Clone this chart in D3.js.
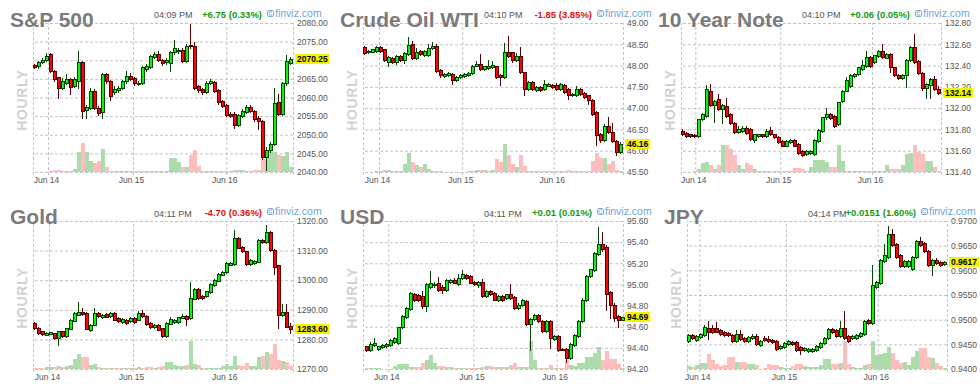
<!DOCTYPE html>
<html><head><meta charset="utf-8">
<script src="https://cdn.jsdelivr.net/npm/d3@7"></script>
<style>
html,body{margin:0;padding:0;background:#fff;}
svg{display:block;font-family:"Liberation Sans",Arial,sans-serif;}
</style></head><body>
<svg id="chart" width="980" height="390"></svg>
<script>
// ---------- DATA ----------
const titles = ["S&P 500","Crude Oil WTI","10 Year Note","Gold","USD","JPY"];
const times = ["04:09 PM","04:10 PM","04:10 PM","04:11 PM","04:11 PM","04:14 PM"];
const changes = ["+6.75 (0.33%)","-1.85 (3.85%)","+0.06 (0.05%)","-4.70 (0.36%)","+0.01 (0.01%)","+0.0151 (1.60%)"];
const lastLabels = ["2070.25","46.16","132.14","1283.60","94.69","0.9617"];
const dateLabels = ["Jun 14","Jun 15","Jun 16"];

// candles: [open, high, low, close]
const spxCandles = [
[2068.8,2069.0,2067.8,2068.1],[2068.5,2069.7,2067.9,2069.4],[2069.4,2070.5,2069.2,2070.1],[2070.1,2071.9,2069.9,2071.2],[2071.7,2071.9,2066.9,2067.2],
[2067.2,2067.4,2064.5,2064.9],[2065.4,2065.6,2060.0,2062.5],[2062.5,2065.2,2062.2,2064.5],[2064.0,2066.3,2063.6,2064.9],[2064.9,2065.2,2060.9,2062.9],
[2063.1,2065.4,2062.7,2064.9],[2064.5,2072.6,2062.5,2069.4],[2069.4,2069.7,2054.4,2056.4],[2056.6,2058.0,2054.4,2057.5],[2057.1,2062.5,2056.8,2061.8],
[2061.8,2062.2,2057.0,2057.3],[2057.3,2057.6,2055.4,2055.8],[2056.0,2066.6,2054.4,2066.3],[2066.3,2066.6,2064.0,2064.5],[2064.5,2064.8,2059.3,2060.5],
[2061.6,2063.1,2060.9,2062.2],[2062.0,2063.0,2061.5,2062.5],[2062.5,2064.8,2062.2,2064.3],[2064.3,2067.2,2064.0,2065.7],[2065.8,2066.5,2064.6,2064.9],
[2065.2,2065.5,2063.3,2063.8],[2063.6,2064.4,2063.3,2064.0],[2063.8,2068.4,2063.5,2068.1],[2067.6,2069.0,2067.2,2068.5],[2068.3,2071.5,2067.9,2071.2],
[2070.9,2072.2,2070.6,2071.7],[2071.7,2072.5,2069.8,2070.1],[2070.1,2070.4,2068.7,2069.2],[2069.4,2070.5,2069.0,2070.1],[2069.2,2072.4,2067.2,2072.1],
[2072.1,2075.4,2071.8,2073.2],[2072.4,2073.3,2072.0,2072.8],[2072.8,2073.3,2069.6,2069.9],[2069.9,2074.4,2069.6,2073.9],[2074.1,2079.6,2073.3,2073.7],
[2073.9,2074.8,2062.2,2062.5],[2063.1,2063.4,2061.5,2062.0],[2062.3,2062.6,2060.9,2061.5],[2061.6,2064.4,2061.3,2064.0],[2063.8,2065.0,2063.5,2064.3],
[2064.2,2064.5,2061.4,2061.8],[2062.0,2062.3,2058.3,2058.7],[2059.1,2059.4,2057.4,2057.8],[2058.0,2058.3,2055.0,2055.3],[2055.7,2056.0,2054.7,2055.1],
[2055.7,2056.0,2051.9,2052.7],[2052.7,2055.6,2052.3,2055.3],[2055.1,2056.8,2054.8,2056.4],[2056.2,2058.0,2055.9,2057.5],[2057.5,2058.0,2056.1,2056.4],
[2056.4,2056.7,2053.8,2054.2],[2054.6,2055.0,2051.5,2053.7],[2053.7,2054.0,2043.6,2043.9],[2043.9,2046.6,2040.5,2045.8],[2045.8,2048.0,2045.4,2047.6],
[2047.6,2062.5,2047.3,2058.4],[2058.7,2061.0,2055.4,2055.7],[2055.7,2064.2,2055.4,2063.8],[2063.8,2071.5,2063.4,2069.7],[2069.2,2071.0,2068.9,2070.25]
];
const spxVolume = [0,0,0,1,2, 7,5,3,2,3, 10,60,87,60,33, 28,33,68,15,3, 2,2,3,3,2, 2,3,4,2,3, 2,2,2,3,42, 43,30,15,15,52, 65,18,3,3,3, 2,2,2,2,3, 5,7,5,3,3, 5,5,40,45,62, 60,50,48,60,15];
const spxTicks = [2040,2045,2050,2055,2060,2065,2070,2075,2080];
const spxDateSlots = [3.75,25,48.33];

const oilCandles = [
[48.43,48.45,48.28,48.30],[48.33,48.37,48.30,48.35],[48.33,48.40,48.31,48.38],[48.35,48.47,48.33,48.43],[48.43,48.45,48.33,48.35],
[48.38,48.40,48.10,48.12],[48.09,48.22,47.99,48.20],[48.17,48.19,48.06,48.08],[48.08,48.26,48.04,48.23],[48.22,48.24,48.10,48.12],
[48.12,48.32,48.06,48.30],[48.27,48.66,48.25,48.48],[48.51,48.57,48.15,48.17],[48.17,48.41,48.15,48.33],[48.34,48.36,48.25,48.27],
[48.25,48.37,48.23,48.35],[48.24,48.51,48.22,48.41],[48.41,48.56,48.39,48.45],[48.45,48.50,47.86,47.88],[47.90,47.92,47.74,47.77],
[47.75,47.82,47.72,47.80],[47.78,47.85,47.76,47.83],[47.81,47.83,47.57,47.65],[47.65,47.75,47.63,47.73],[47.73,47.80,47.71,47.78],
[47.76,47.83,47.74,47.81],[47.78,47.85,47.76,47.83],[47.83,48.02,47.81,48.00],[48.00,48.10,47.98,48.04],[48.04,48.28,47.90,47.92],
[47.92,48.00,47.90,47.98],[47.95,48.13,47.93,48.00],[47.97,48.11,47.95,48.02],[47.98,48.00,47.70,47.73],[47.78,47.80,47.55,47.73],
[47.73,48.52,47.71,48.33],[48.33,48.70,48.20,48.22],[48.31,48.33,48.08,48.12],[48.12,48.30,48.10,48.22],[48.22,48.44,47.82,47.84],
[47.84,47.86,47.30,47.45],[47.45,47.63,47.43,47.61],[47.61,47.63,47.43,47.45],[47.43,47.51,47.41,47.49],[47.49,47.51,47.41,47.43],
[47.45,47.65,47.43,47.57],[47.53,47.59,47.51,47.57],[47.55,47.57,47.47,47.49],[47.55,47.59,47.43,47.45],[47.45,47.59,47.43,47.57],
[47.55,47.57,47.36,47.38],[47.45,47.47,47.22,47.30],[47.30,47.36,47.28,47.34],[47.30,47.52,47.28,47.45],[47.45,47.47,47.32,47.34],
[47.36,47.38,47.24,47.26],[47.30,47.32,47.10,47.18],[47.20,47.22,46.85,46.87],[46.91,46.93,46.13,46.38],[46.40,46.42,46.20,46.24],
[46.24,46.62,46.22,46.58],[46.58,46.80,46.42,46.44],[46.44,46.66,46.20,46.22],[46.22,46.24,45.89,45.97],[45.97,46.20,45.95,46.16]
];
const oilVolume = [0,0,0,2,3, 7,6,3,3,3, 25,58,30,20,15, 23,10,4,2,2, 1,1,1,1,1, 1,2,4,6,5, 5,4,5,40,30, 85,52,25,15,52, 18,3,3,2,2, 2,2,2,2,2, 2,6,2,2,2, 2,4,32,58,42, 42,25,32,5,3];
const oilTicks = [45.5,46.0,46.5,47.0,47.5,48.0,48.5,49.0];
const oilDateSlots = [4.0,24.83,47.67];

const noteCandles = [
[131.787,131.80,131.75,131.755],[131.77,131.78,131.73,131.74],[131.755,131.76,131.73,131.735],[131.75,131.76,131.73,131.735],[131.735,131.90,131.73,131.897],
[131.897,131.95,131.89,131.944],[131.93,132.22,131.92,132.18],[132.165,132.23,132.02,132.03],[132.03,132.08,131.87,132.07],[132.086,132.13,131.98,131.99],
[131.99,132.04,131.86,132.03],[132.02,132.10,131.92,131.93],[131.944,131.95,131.85,131.86],[131.865,131.87,131.77,131.78],[131.78,131.83,131.77,131.80],
[131.787,131.83,131.78,131.818],[131.818,131.83,131.76,131.77],[131.80,131.81,131.70,131.71],[131.705,131.76,131.68,131.755],[131.74,131.76,131.73,131.755],
[131.755,131.76,131.73,131.74],[131.74,131.80,131.73,131.787],[131.79,131.82,131.75,131.755],[131.755,131.76,131.72,131.73],[131.73,131.74,131.67,131.68],
[131.69,131.70,131.64,131.645],[131.645,131.70,131.64,131.69],[131.68,131.71,131.67,131.70],[131.70,131.71,131.64,131.645],[131.66,131.67,131.57,131.58],
[131.60,131.61,131.55,131.56],[131.565,131.61,131.56,131.598],[131.58,131.61,131.57,131.60],[131.57,131.71,131.56,131.70],[131.69,131.80,131.68,131.79],
[131.787,131.92,131.78,131.913],[131.913,132.00,131.90,131.944],[131.944,131.95,131.90,131.91],[131.93,131.94,131.82,131.83],[131.85,132.06,131.84,132.054],
[132.07,132.17,132.06,132.165],[132.165,132.29,132.16,132.26],[132.21,132.32,132.20,132.31],[132.30,132.33,132.29,132.32],[132.32,132.39,132.31,132.385],
[132.37,132.45,132.36,132.41],[132.40,132.54,132.39,132.48],[132.48,132.49,132.39,132.40],[132.43,132.50,132.42,132.495],[132.49,132.55,132.48,132.54],
[132.54,132.60,132.47,132.48],[132.475,132.52,132.47,132.51],[132.51,132.52,132.34,132.385],[132.385,132.39,132.30,132.31],[132.31,132.32,132.27,132.28],
[132.28,132.32,132.27,132.31],[132.31,132.46,132.20,132.45],[132.45,132.58,132.44,132.573],[132.573,132.70,132.42,132.43],[132.44,132.45,132.32,132.33],
[132.33,132.34,132.17,132.19],[132.19,132.24,132.10,132.23],[132.22,132.28,132.10,132.27],[132.27,132.30,132.17,132.18],[132.18,132.21,132.13,132.14]
];
const noteVolume = [0,0,1,2,10, 28,30,20,10,22, 82,80,68,52,20, 10,26,20,8,2, 3,3,2,2,2, 3,3,2,12,12, 10,3,15,35,37, 37,30,15,15,80, 32,3,3,3,3, 3,3,3,2,3, 3,20,10,10,10, 20,55,58,80,60, 55,32,32,15,3];
const noteTicks = [131.4,131.6,131.8,132.0,132.2,132.4,132.6,132.8];
const noteDateSlots = [3.58,24.83,47.75];

const goldCandles = [
[1285.5,1286.0,1283.5,1283.8],[1283.9,1284.2,1281.8,1282.1],[1282.8,1283.0,1281.5,1281.7],[1281.6,1282.6,1281.4,1282.3],[1281.9,1282.6,1281.7,1282.4],
[1282.1,1282.3,1280.3,1280.5],[1280.5,1282.9,1278.2,1282.7],[1282.7,1283.0,1280.8,1281.0],[1281.0,1284.0,1280.8,1283.8],[1283.6,1286.9,1283.4,1286.6],
[1286.3,1289.2,1286.1,1288.9],[1288.3,1292.5,1288.1,1289.2],[1289.2,1290.5,1288.4,1288.6],[1288.9,1289.2,1283.4,1283.6],[1283.3,1285.3,1283.0,1285.0],
[1284.9,1290.5,1284.7,1288.9],[1288.9,1289.2,1287.6,1287.8],[1287.5,1288.6,1287.3,1288.3],[1288.5,1288.8,1287.4,1287.6],[1287.8,1289.2,1287.6,1288.9],
[1288.9,1289.2,1286.4,1286.6],[1287.2,1287.5,1285.9,1286.1],[1285.9,1287.2,1285.7,1286.9],[1286.6,1286.9,1285.3,1285.5],[1286.1,1287.5,1285.9,1287.2],
[1287.2,1287.5,1285.7,1285.9],[1286.6,1289.7,1286.4,1288.9],[1288.9,1290.0,1287.6,1287.8],[1287.8,1288.1,1285.0,1285.2],[1285.5,1285.8,1283.9,1284.1],
[1284.1,1285.2,1283.9,1284.9],[1284.9,1285.2,1283.1,1283.3],[1283.8,1284.0,1280.8,1281.0],[1281.0,1285.8,1280.8,1285.5],[1285.3,1287.5,1285.1,1287.0],
[1285.8,1286.9,1285.6,1286.6],[1285.9,1287.7,1285.7,1287.4],[1287.3,1288.5,1287.1,1287.8],[1287.8,1288.3,1284.9,1287.0],[1287.2,1299.4,1287.0,1293.9],
[1293.7,1297.4,1293.5,1297.1],[1297.1,1297.4,1293.7,1293.9],[1294.6,1294.9,1293.5,1293.9],[1294.5,1296.4,1294.3,1296.2],[1296.0,1298.9,1295.8,1298.7],
[1298.4,1300.4,1298.2,1300.1],[1299.8,1302.3,1299.6,1302.0],[1301.8,1303.2,1301.6,1302.9],[1302.7,1306.0,1302.5,1305.7],[1305.2,1306.0,1305.0,1305.7],
[1305.4,1316.8,1305.2,1314.2],[1314.2,1314.5,1310.8,1311.0],[1311.3,1311.6,1309.5,1309.7],[1309.7,1310.0,1305.2,1305.4],[1305.4,1307.2,1305.2,1306.9],
[1305.7,1306.9,1305.5,1306.6],[1306.3,1313.9,1306.1,1313.6],[1313.6,1313.9,1312.7,1312.9],[1312.9,1318.6,1312.7,1316.2],[1316.2,1316.5,1310.0,1310.2],
[1310.2,1310.5,1302.0,1304.6],[1305.0,1305.3,1283.9,1288.1],[1288.1,1291.9,1287.9,1289.2],[1289.2,1292.0,1284.1,1284.3],[1284.4,1285.5,1282.1,1283.6]
];
const goldVolume = [4,3,2,5,7, 5,10,6,8,12, 30,45,37,37,12, 15,5,2,2,2, 2,4,4,4,2, 2,5,3,6,5, 4,6,8,22,22, 12,10,10,12,85, 15,12,3,3,3, 3,3,10,15,10, 38,12,8,18,10, 10,37,40,50,45, 75,27,25,20,8];
const goldTicks = [1270,1280,1290,1300,1310,1320];
const goldDateSlots = [4.0,25.0,48.33];

const usdCandles = [
[94.415,94.42,94.37,94.383],[94.38,94.46,94.37,94.44],[94.43,94.49,94.42,94.446],[94.39,94.42,94.38,94.415],[94.41,94.44,94.40,94.43],
[94.42,94.45,94.41,94.44],[94.43,94.48,94.42,94.47],[94.46,94.50,94.45,94.49],[94.45,94.60,94.44,94.595],[94.595,94.71,94.59,94.70],
[94.69,94.79,94.68,94.78],[94.77,94.93,94.76,94.92],[94.91,94.92,94.84,94.85],[94.90,94.91,94.84,94.85],[94.889,94.94,94.78,94.794],
[94.794,95.01,94.75,95.00],[94.98,95.13,94.97,95.015],[94.99,95.02,94.98,95.005],[95.015,95.07,94.94,94.952],[94.98,94.99,94.92,94.95],
[94.95,95.05,94.94,95.04],[95.02,95.05,95.01,95.04],[95.045,95.06,95.01,95.015],[95.00,95.10,94.99,95.06],[95.06,95.14,95.05,95.094],
[95.09,95.10,95.05,95.06],[95.08,95.09,95.01,95.015],[95.02,95.03,94.99,95.00],[94.99,95.03,94.98,95.02],[95.02,95.05,94.88,94.889],
[94.89,94.95,94.88,94.936],[94.936,94.95,94.90,94.91],[94.92,94.93,94.85,94.857],[94.85,94.90,94.84,94.89],[94.89,94.90,94.84,94.85],
[94.87,94.91,94.86,94.905],[94.905,95.00,94.86,94.873],[94.88,94.89,94.77,94.78],[94.78,94.82,94.77,94.81],[94.81,94.86,94.80,94.85],
[94.84,94.85,94.62,94.63],[94.63,94.68,94.38,94.67],[94.67,94.72,94.66,94.715],[94.715,94.72,94.64,94.652],[94.652,94.66,94.55,94.557],
[94.56,94.66,94.55,94.652],[94.652,94.66,94.40,94.494],[94.48,94.52,94.47,94.51],[94.51,94.52,94.37,94.383],[94.39,94.40,94.38,94.383],
[94.39,94.40,94.27,94.30],[94.30,94.45,94.29,94.44],[94.43,94.53,94.42,94.526],[94.51,94.66,94.50,94.652],[94.652,94.87,94.64,94.857],
[94.85,95.09,94.84,95.08],[95.08,95.15,95.07,95.142],[95.14,95.31,95.13,95.30],[95.29,95.54,95.28,95.385],[95.385,95.50,95.32,95.332],
[95.355,95.37,94.76,94.91],[94.93,94.94,94.68,94.81],[94.81,94.82,94.65,94.684],[94.70,94.71,94.60,94.668],[94.668,94.69,94.66,94.69]
];
const usdVolume = [3,3,3,2,1, 1,1,8,15,15, 15,7,7,5,17, 27,42,17,10,10, 7,7,4,4,4, 2,2,2,2,7, 10,10,5,5,7, 7,12,18,7,7, 7,85,27,3,3, 3,13,3,4,4, 27,12,10,17,17, 35,35,47,65,27, 55,30,30,15,3];
const usdTicks = [94.2,94.4,94.6,94.8,95.0,95.2,95.4,95.6];
const usdDateSlots = [6.33,27.6,48.4];

const jpyCandles = [
[0.9456,0.9470,0.9454,0.9468],[0.9468,0.9471,0.9460,0.9462],[0.9459,0.9468,0.9457,0.9466],[0.9465,0.9473,0.9463,0.9471],[0.9469,0.9490,0.9467,0.9486],
[0.9484,0.9497,0.9460,0.9476],[0.9484,0.9490,0.9473,0.9475],[0.9484,0.9496,0.9474,0.9476],[0.9480,0.9482,0.9469,0.9471],[0.9476,0.9478,0.9467,0.9469],
[0.9473,0.9475,0.9466,0.9468],[0.9469,0.9471,0.9454,0.9456],[0.9456,0.9479,0.9454,0.9471],[0.9471,0.9479,0.9459,0.9461],[0.9462,0.9464,0.9454,0.9456],
[0.9457,0.9466,0.9455,0.9464],[0.9462,0.9470,0.9460,0.9466],[0.9466,0.9471,0.9449,0.9451],[0.9449,0.9458,0.9447,0.9456],[0.9463,0.9466,0.9456,0.9458],
[0.9461,0.9467,0.9454,0.9456],[0.9458,0.9460,0.9453,0.9455],[0.9456,0.9458,0.9439,0.9441],[0.9442,0.9448,0.9440,0.9446],[0.9445,0.9455,0.9443,0.9453],
[0.9451,0.9458,0.9449,0.9456],[0.9455,0.9457,0.9449,0.9451],[0.9455,0.9457,0.9437,0.9439],[0.9445,0.9447,0.9431,0.9438],[0.9438,0.9445,0.9436,0.9443],
[0.9436,0.9442,0.9435,0.9440],[0.9436,0.9442,0.9435,0.9440],[0.9438,0.9448,0.9436,0.9446],[0.9444,0.9455,0.9442,0.9453],[0.9452,0.9465,0.9450,0.9463],
[0.9462,0.9483,0.9460,0.9481],[0.9481,0.9483,0.9473,0.9475],[0.9479,0.9481,0.9464,0.9466],[0.9466,0.9497,0.9464,0.9483],[0.9483,0.9518,0.9461,0.9463],
[0.9466,0.9468,0.9454,0.9456],[0.9462,0.9468,0.9460,0.9466],[0.9462,0.9470,0.9460,0.9468],[0.9466,0.9475,0.9464,0.9473],[0.9471,0.9500,0.9469,0.9498],
[0.9500,0.9502,0.9491,0.9493],[0.9493,0.9610,0.9491,0.9570],[0.9567,0.9579,0.9565,0.9577],[0.9574,0.9623,0.9572,0.9621],[0.9619,0.9653,0.9617,0.9631],
[0.9628,0.9689,0.9626,0.9673],[0.9673,0.9683,0.9650,0.9652],[0.9653,0.9655,0.9626,0.9628],[0.9631,0.9633,0.9607,0.9609],[0.9609,0.9620,0.9607,0.9618],
[0.9609,0.9620,0.9607,0.9618],[0.9603,0.9630,0.9600,0.9628],[0.9628,0.9662,0.9626,0.9660],[0.9659,0.9668,0.9650,0.9652],[0.9655,0.9657,0.9637,0.9639],
[0.9639,0.9641,0.9608,0.9610],[0.9610,0.9623,0.9591,0.9621],[0.9621,0.9625,0.9612,0.9614],[0.9617,0.9619,0.9608,0.9610],[0.9612,0.9619,0.9610,0.9617]
];
const jpyVolume = [9,5,12,19,19, 44,27,15,10,12, 35,35,22,22,22, 15,15,13,1,2, 15,12,12,7,3, 3,9,14,14,9, 7,7,7,12,29, 29,15,15,17,84, 15,5,2,2,12, 15,84,42,44,47, 65,47,27,19,22, 12,37,54,62,64, 37,34,17,9,3];
const jpyTicks = [0.940,0.945,0.950,0.955,0.960,0.965,0.970];
const jpyDateSlots = [3.08,24.75,47.67];

// ---------- LAYOUT ----------
const panels = [
  {c: spxCandles, v: spxVolume, t: spxTicks, d: spxDateSlots, fmt: ".2f", ox: 0,   row: 0, shift: 0},
  {c: oilCandles, v: oilVolume, t: oilTicks, d: oilDateSlots, fmt: ".2f", ox: 330, row: 0, shift: 0},
  {c: noteCandles, v: noteVolume, t: noteTicks, d: noteDateSlots, fmt: ".2f", ox: 648, row: 0, shift: 0},
  {c: goldCandles, v: goldVolume, t: goldTicks, d: goldDateSlots, fmt: ".2f", ox: 0,   row: 1, shift: 0},
  {c: usdCandles, v: usdVolume, t: usdTicks, d: usdDateSlots, fmt: ".2f", ox: 330, row: 1, shift: 0.5},
  {c: jpyCandles, v: jpyVolume, t: jpyTicks, d: jpyDateSlots, fmt: ".4f", ox: 654, row: 1, shift: 0}
];
const rows = [
  {top: 23, bottom: 172, title: 26.5, time: 18, change: 17.5, logo: 17, hourly: 100},
  {top: 221, bottom: 369, title: 224, time: 217, change: 215.8, logo: 215, hourly: 298}
];
const SLOTS = 65, STEP = 4;
const UP = {fill: "#14ee14", stroke: "#074407", vol: "#acdcac"};
const DN = {fill: "#f20a0a", stroke: "#520000", vol: "#ffbebe"};

const svg = d3.select("#chart");
svg.append("rect").attr("width", 980).attr("height", 390).attr("fill", "#fff");

panels.forEach((p, k) => {
  const R = rows[p.row];
  const left = 33 + p.ox, right = left + SLOTS * STEP;
  const g = svg.append("g");
  const x = d3.scaleLinear().domain([0, SLOTS]).range([left, right]);
  const y = d3.scaleLinear().domain([p.t[0], p.t[p.t.length - 1]]).range([R.bottom, R.top]);
  const vy = d3.scaleLinear().domain([0, 90]).range([0, 30]);

  // HOURLY watermark
  g.append("text")
    .attr("transform", `translate(${p.ox + 22},${R.hourly}) rotate(-90)`)
    .attr("text-anchor", "middle").attr("dy", "0.36em")
    .attr("font-size", 14).attr("font-weight", "bold").attr("fill", "#d2d2d2")
    .attr("letter-spacing", 0.6)
    .text("HOURLY");

  // volume
  g.append("g").selectAll("rect").data(p.c).join("rect")
    .attr("x", (d, i) => Math.round(x(i + p.shift)))
    .attr("width", STEP)
    .attr("y", (d, i) => R.bottom - Math.round(vy(p.v[i])))
    .attr("height", (d, i) => Math.round(vy(p.v[i])))
    .attr("fill", d => d[3] >= d[0] ? UP.vol : DN.vol);

  // horizontal grid + y labels
  const yAxis = g.append("g").attr("transform", `translate(${right},0)`)
    .call(d3.axisRight(y).tickValues(p.t).tickFormat(d3.format(p.fmt))
      .tickSize(-(right - left)).tickPadding(4));
  yAxis.select(".domain").remove();
  yAxis.selectAll("line").attr("stroke", "#c4c4c4").attr("stroke-dasharray", "3,2");
  yAxis.selectAll("text").attr("font-size", 8.5).attr("fill", "#555")
    .attr("font-family", "'Liberation Sans',Arial,sans-serif");

  // vertical grid + date labels
  const xAxis = g.append("g").attr("transform", `translate(0,${R.bottom + 3})`)
    .call(d3.axisBottom(x).tickValues([0, ...p.d, SLOTS])
      .tickFormat((d, i) => (i >= 1 && i <= p.d.length) ? dateLabels[i - 1] : "")
      .tickSize(-(R.bottom + 3 - R.top)).tickPadding(2));
  xAxis.select(".domain").remove();
  xAxis.selectAll("line").attr("stroke", "#c4c4c4").attr("stroke-dasharray", "3,2");
  xAxis.selectAll("text").attr("font-size", 8.5).attr("fill", "#555").attr("dx", -2)
    .attr("font-family", "'Liberation Sans',Arial,sans-serif");

  // candles
  const cg = g.append("g");
  p.c.forEach((d, i) => {
    const [o, h, l, c] = d;
    const col = c >= o ? UP : DN;
    const a = Math.round(x(i + p.shift));
    cg.append("line")
      .attr("x1", a + 1.5).attr("x2", a + 1.5)
      .attr("y1", Math.round(y(h))).attr("y2", Math.round(y(l)) + 1)
      .attr("stroke", col.stroke).attr("stroke-width", 1);
    const top = Math.round(y(Math.max(o, c)));
    const hgt = Math.max(2, Math.round(y(Math.min(o, c))) - top + 1);
    cg.append("rect")
      .attr("x", a + 0.5).attr("width", 3)
      .attr("y", top + 0.5).attr("height", hgt - 1)
      .attr("fill", col.fill).attr("stroke", col.stroke).attr("stroke-width", 1);
  });

  // last price tag
  const last = p.c[p.c.length - 1][3];
  const ly = y(last);
  const tag = g.append("g");
  const tr = tag.append("rect").attr("fill", "#f4f400");
  const tt = tag.append("text").attr("x", right + 4).attr("y", ly).attr("dy", "0.35em")
    .attr("font-size", 8.5).attr("font-weight", "bold").attr("fill", "#000")
    .text(lastLabels[k]);
  const tw = tt.node().getComputedTextLength();
  tr.attr("x", right + 2).attr("y", Math.round(ly) - 5).attr("width", tw + 4).attr("height", 10);

  // header
  g.append("text").attr("x", p.ox + 10).attr("y", R.title)
    .attr("font-size", 21).attr("font-weight", "bold").attr("fill", "#7b7b7b")
    .text(titles[k]);
  g.append("text").attr("x", p.ox + 154).attr("y", R.time)
    .attr("font-size", 9).attr("fill", "#555").text(times[k]);
  g.append("text").attr("x", p.ox + 262).attr("y", R.change).attr("text-anchor", "end")
    .attr("font-size", 9.5).attr("font-weight", "bold")
    .attr("fill", changes[k][0] === "-" ? "#e01010" : "#129a12")
    .text(changes[k]);
  // finviz logo
  const lg = g.append("g").attr("transform", `translate(${p.ox + 267},${R.logo - 7})`);
  lg.append("rect").attr("x", 0.5).attr("y", 0.5).attr("width", 6).attr("height", 6).attr("rx", 1.5)
    .attr("fill", "none").attr("stroke", "#7aaee0").attr("stroke-width", 1);
  lg.append("path").attr("d", "M5,2.3 A1.8,1.8 0 1 0 5,4.7").attr("fill", "none")
    .attr("stroke", "#7aaee0").attr("stroke-width", 1);
  g.append("text").attr("x", p.ox + 275).attr("y", R.logo)
    .attr("font-size", 10.5).attr("fill", "#6fa6dc").text("finviz.com");
});
</script>
</body></html>
